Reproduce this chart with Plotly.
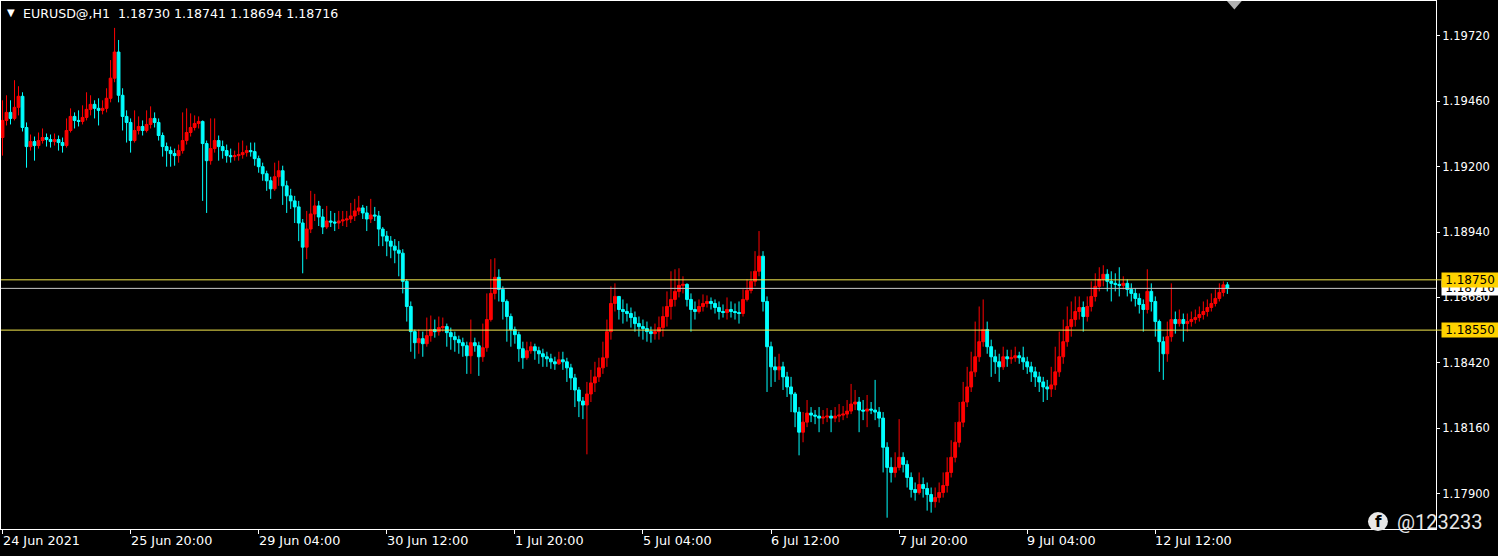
import plotly.graph_objects as go

# ---------------- data (prices in points, 1 point = 0.00001) ----------------
FIRST_OPEN = 119316

close_pts = [
    119384, 119416, 119392, 119436, 119480, 119356, 119280, 119300, 119284, 119304,
    119316, 119308, 119300, 119308, 119296, 119284, 119344, 119400, 119384, 119380,
    119396, 119428, 119448, 119432, 119424, 119432, 119472, 119552, 119656, 119484,
    119400, 119376, 119304, 119344, 119360, 119344, 119368, 119392, 119376, 119324,
    119280, 119264, 119252, 119244, 119264, 119304, 119336, 119356, 119372, 119380,
    119292, 119224, 119272, 119304, 119280, 119264, 119244, 119240, 119244, 119248,
    119256, 119264, 119260, 119232, 119200, 119172, 119144, 119112, 119160, 119184,
    119124, 119084, 119064, 119040, 118976, 118880, 118952, 119012, 119044, 119000,
    118960, 118984, 118980, 118976, 118984, 118988, 118992, 119004, 119024, 119036,
    119016, 118992, 119008, 119004, 118952, 118924, 118904, 118884, 118868, 118856,
    118744, 118644, 118544, 118500, 118516, 118496, 118528, 118552, 118544, 118560,
    118564, 118540, 118524, 118512, 118500, 118488, 118448, 118500, 118488, 118444,
    118480, 118592, 118696, 118760, 118712, 118664, 118604, 118552, 118532, 118476,
    118440, 118468, 118484, 118468, 118456, 118444, 118436, 118424, 118416, 118432,
    118424, 118400, 118360, 118312, 118268, 118252, 118296, 118340, 118364, 118400,
    118440, 118544, 118656, 118684, 118632, 118624, 118616, 118600, 118576, 118564,
    118556, 118544, 118536, 118544, 118560, 118604, 118644, 118672, 118704, 118728,
    118732, 118672, 118632, 118624, 118644, 118656, 118664, 118656, 118640, 118624,
    118620, 118632, 118624, 118620, 118616, 118672, 118708, 118744, 118784, 118844,
    118664, 118484, 118404, 118392, 118404, 118364, 118324, 118296, 118224, 118144,
    118184, 118220, 118212, 118208, 118200, 118204, 118208, 118200, 118208, 118212,
    118216, 118228, 118256, 118264, 118232, 118228, 118236, 118232, 118224, 118200,
    118084, 118004, 117984, 118004, 118044, 118016, 117964, 117916, 117904, 117936,
    117920, 117896, 117868, 117884, 117904, 117932, 117984, 118044, 118104, 118184,
    118264, 118324, 118384, 118444, 118504, 118552, 118484, 118444, 118424, 118404,
    118444, 118436, 118440, 118448, 118440, 118424, 118404, 118384, 118364, 118344,
    118324, 118316, 118332, 118384, 118444, 118504, 118564, 118592, 118624, 118640,
    118604, 118644, 118684, 118724, 118752, 118772, 118744, 118736, 118732, 118728,
    118736, 118712, 118696, 118676, 118652, 118632, 118704, 118664, 118584, 118504,
    118456, 118524, 118592, 118576, 118592, 118576, 118584, 118592, 118600, 118612,
    118624, 118640, 118656, 118676, 118700, 118730, 118716,
]

high_pts = [
    119464, 119484, 119464, 119544, 119520, 119496, 119376, 119328, 119320, 119336,
    119352, 119332, 119328, 119332, 119324, 119316, 119392, 119432, 119416, 119424,
    119444, 119496, 119484, 119464, 119472, 119464, 119512, 119624, 119752, 119704,
    119512, 119424, 119392, 119424, 119400, 119384, 119424, 119440, 119416, 119392,
    119336, 119296, 119280, 119272, 119288, 119416, 119432, 119412, 119404, 119400,
    119384, 119304, 119392, 119392, 119324, 119304, 119288, 119272, 119264, 119296,
    119304, 119284, 119296, 119296, 119244, 119216, 119184, 119160, 119216, 119224,
    119204, 119144, 119112, 119084, 119064, 118992, 119024, 119104, 119092, 119064,
    119032, 119044, 119024, 119016, 119024, 119024, 119024, 119056, 119072, 119084,
    119048, 119044, 119072, 119040, 119024, 118960, 118944, 118924, 118912, 118904,
    118872, 118752, 118664, 118552, 118552, 118544, 118600, 118608, 118592, 118604,
    118600, 118576, 118560, 118544, 118528, 118520, 118504, 118592, 118520, 118504,
    118576, 118696, 118832, 118836, 118792, 118724, 118672, 118616, 118564, 118544,
    118504, 118504, 118504, 118496, 118484, 118476, 118464, 118456, 118444, 118464,
    118464, 118440, 118416, 118376, 118324, 118284, 118344, 118392, 118424, 118440,
    118504, 118592, 118724, 118736, 118680, 118672, 118656, 118640, 118624, 118604,
    118592, 118584, 118564, 118576, 118604, 118644, 118704, 118784, 118792, 118796,
    118764, 118736, 118696, 118664, 118672, 118692, 118688, 118680, 118672, 118664,
    118652, 118680, 118664, 118656, 118664, 118712, 118752, 118784, 118864, 118944,
    118864, 118684, 118504, 118444, 118456, 118424, 118384, 118364, 118304, 118244,
    118224, 118272, 118244, 118232, 118244, 118232, 118240, 118232, 118244, 118256,
    118248, 118272, 118336, 118312, 118284, 118272, 118292, 118264, 118352, 118244,
    118224, 118104, 118044, 118064, 118196, 118064, 118032, 117984, 117944, 117984,
    117964, 117944, 117924, 117924, 117944, 117984, 118044, 118112, 118184, 118264,
    118344, 118404, 118464, 118584, 118644, 118672, 118584, 118512, 118472, 118456,
    118484, 118472, 118472, 118484, 118464, 118484, 118444, 118424, 118404, 118384,
    118364, 118352, 118404, 118484, 118544, 118592, 118644, 118664, 118684, 118684,
    118664, 118684, 118744, 118776, 118800, 118808, 118792, 118784, 118776, 118800,
    118764, 118752, 118736, 118716, 118696, 118672, 118792, 118736, 118684, 118592,
    118524, 118584, 118736, 118624, 118632, 118616, 118616, 118624, 118632, 118644,
    118664, 118672, 118696, 118712, 118736, 118744, 118741,
]

low_pts = [
    119244, 119364, 119368, 119384, 119404, 119340, 119196, 119264, 119224, 119272,
    119292, 119280, 119276, 119284, 119264, 119256, 119276, 119336, 119352, 119360,
    119368, 119384, 119404, 119392, 119364, 119408, 119416, 119456, 119536, 119456,
    119344, 119296, 119256, 119296, 119328, 119324, 119336, 119352, 119356, 119304,
    119240, 119200, 119200, 119204, 119216, 119252, 119288, 119320, 119344, 119352,
    119064, 119016, 119208, 119256, 119224, 119232, 119216, 119216, 119224, 119224,
    119232, 119240, 119240, 119204, 119176, 119144, 119104, 119072, 119104, 119124,
    119048, 119016, 119032, 118976, 118904, 118776, 118832, 118936, 118984, 118964,
    118932, 118952, 118960, 118944, 118952, 118964, 118960, 118976, 118984, 119008,
    118992, 118944, 118976, 118984, 118884, 118884, 118844, 118836, 118816, 118764,
    118696, 118584, 118464, 118436, 118456, 118444, 118484, 118504, 118520, 118528,
    118544, 118484, 118472, 118464, 118456, 118444, 118376, 118376, 118464, 118368,
    118424, 118464, 118584, 118672, 118664, 118592, 118504, 118484, 118496, 118424,
    118396, 118432, 118456, 118432, 118416, 118404, 118404, 118396, 118392, 118412,
    118392, 118344, 118312, 118244, 118204, 118196, 118056, 118264, 118304, 118344,
    118376, 118404, 118512, 118624, 118592, 118576, 118584, 118560, 118544, 118524,
    118512, 118504, 118500, 118512, 118512, 118524, 118564, 118592, 118644, 118680,
    118696, 118644, 118544, 118592, 118616, 118624, 118640, 118632, 118616, 118592,
    118600, 118592, 118600, 118592, 118576, 118604, 118664, 118696, 118724, 118764,
    118624, 118304, 118324, 118344, 118352, 118312, 118284, 118224, 118164, 118052,
    118104, 118164, 118184, 118176, 118144, 118176, 118184, 118144, 118184, 118184,
    118192, 118200, 118216, 118232, 118144, 118192, 118164, 118216, 118192, 118164,
    117984, 117804, 117944, 117964, 117992, 117984, 117924, 117884, 117872, 117896,
    117884, 117832, 117824, 117844, 117864, 117884, 117904, 117964, 118024, 118084,
    118164, 118244, 118304, 118364, 118424, 118484, 118456, 118364, 118376, 118344,
    118392, 118404, 118416, 118424, 118416, 118392, 118376, 118344, 118324, 118304,
    118264, 118272, 118284, 118312, 118364, 118416, 118484, 118524, 118564, 118592,
    118544, 118584, 118624, 118664, 118704, 118724, 118704, 118664, 118704, 118684,
    118712, 118684, 118664, 118644, 118616, 118544, 118616, 118624, 118524, 118384,
    118352, 118424, 118504, 118536, 118564, 118504, 118544, 118564, 118576, 118584,
    118592, 118604, 118624, 118644, 118664, 118684, 118694,
]

date_labels = ["24 Jun 2021", "25 Jun 20:00", "29 Jun 04:00", "30 Jun 12:00",
               "1 Jul 20:00", "5 Jul 04:00", "6 Jul 12:00", "7 Jul 20:00",
               "9 Jul 04:00", "12 Jul 12:00"]
date_bars = [0, 32, 64, 96, 128, 160, 192, 224, 256, 288]

y_ticks = [1.17900, 1.18160, 1.18420, 1.18680, 1.18940, 1.19200, 1.19460, 1.19720]
level_prices = [1.18750, 1.18550]
symbol = "EURUSD@,H1"
watermark = "@123233"

# ---------------- build OHLC ----------------
close = [v / 1e5 for v in close_pts]
open_ = [FIRST_OPEN / 1e5] + close[:-1]
high = [max(h / 1e5, o, c) for h, o, c in zip(high_pts, open_, close)]
low = [min(l / 1e5, o, c) for l, o, c in zip(low_pts, open_, close)]
x = list(range(len(close)))
bid = close[-1]

FONT = "DejaVu Sans"

fig = go.Figure(go.Candlestick(
    x=x, open=open_, high=high, low=low, close=close,
    increasing=dict(line=dict(color="#FF0000", width=1), fillcolor="#FF0000"),
    decreasing=dict(line=dict(color="#00FFFF", width=1), fillcolor="#00FFFF"),
    whiskerwidth=0, hoverinfo="skip", showlegend=False,
))

fig.update_layout(
    width=1498, height=556,
    margin=dict(l=1, r=62, t=1, b=27),
    paper_bgcolor="#000000", plot_bgcolor="#000000",
    showlegend=False, boxgap=0.0, boxgroupgap=0.3,
    font=dict(family=FONT, size=12, color="#FFFFFF"),
)
fig.update_xaxes(
    range=[-0.375, 358.125], rangeslider=dict(visible=False),
    showgrid=False, zeroline=False,
    showline=True, linecolor="#FFFFFF", linewidth=1, mirror=True,
    tickvals=date_bars, ticks="outside", ticklen=4, tickcolor="#FFFFFF",
    showticklabels=False,
)
fig.update_yaxes(
    side="right", range=[1.17759, 1.19859],
    tickvals=y_ticks, tickformat=".5f",
    ticks="outside", ticklen=3, tickcolor="#FFFFFF",
    showgrid=False, zeroline=False,
    showline=True, linecolor="#FFFFFF", linewidth=1, mirror=True,
    tickfont=dict(family=FONT, size=11.5, color="#FFFFFF"),
)

shapes = []
for lv in level_prices:
    shapes.append(dict(type="line", xref="paper", x0=0, x1=1.012, yref="y", y0=lv, y1=lv,
                       line=dict(color="#F5E94E", width=1), layer="above"))
shapes.append(dict(type="line", xref="paper", x0=0, x1=1, yref="y", y0=bid, y1=bid,
                   line=dict(color="#C8C8C8", width=1), layer="above"))
# chart-shift marker at top
shapes.append(dict(type="path", xref="x", yref="paper",
                   path="M 305.9 1 L 309.6 1 L 307.75 0.984 Z",
                   fillcolor="#B0B0B0", line=dict(width=0)))
# watermark logo circle
shapes.append(dict(type="circle", xref="paper", yref="paper",
                   x0=0.9526, x1=0.9665, y0=-0.004, y1=0.032,
                   fillcolor="#E8E8E8", line=dict(width=0)))
fig.update_layout(shapes=shapes)

ann = []
# date labels (left-aligned at tick)
for b, t in zip(date_bars, date_labels):
    ann.append(dict(x=b, xref="x", y=0, yref="paper", xanchor="left", yanchor="top",
                    xshift=-2, yshift=-2, text=t, showarrow=False,
                    font=dict(family=FONT, size=12.8, color="#FFFFFF")))
# bid label (white) then level labels (yellow) on the price scale
ann.append(dict(x=1, xref="paper", y=bid, yref="y", xanchor="left", xshift=5,
                text=f"{bid:.5f}", showarrow=False, bgcolor="#FFFFFF", borderpad=0,
                width=56, height=14, font=dict(family=FONT, size=12, color="#000000")))
for lv in level_prices:
    ann.append(dict(x=1, xref="paper", y=lv, yref="y", xanchor="left", xshift=5,
                    text=f"{lv:.5f}", showarrow=False, bgcolor="#FFD200", borderpad=0,
                    width=56, height=14, font=dict(family=FONT, size=12, color="#000000")))
# top-left title
title_txt = f"{symbol}\u00a0\u00a0{open_[-1]:.5f} {high[-1]:.5f} {low[-1]:.5f} {close[-1]:.5f}"
ann.append(dict(x=0, xref="paper", y=1, yref="paper", xanchor="left", yanchor="top",
                xshift=4, yshift=-4, text="\u25BC", showarrow=False,
                font=dict(family=FONT, size=10, color="#FFFFFF")))
ann.append(dict(x=0, xref="paper", y=1, yref="paper", xanchor="left", yanchor="top",
                xshift=20, yshift=-3, text=title_txt, showarrow=False,
                font=dict(family=FONT, size=12.6, color="#FFFFFF")))
# watermark
ann.append(dict(x=0.9596, xref="paper", y=0.014, yref="paper", xanchor="center", yanchor="middle",
                text="<b>f</b>", showarrow=False,
                font=dict(family=FONT, size=15, color="#000000")))
ann.append(dict(x=0.9715, xref="paper", y=0.014, yref="paper", xanchor="left", yanchor="middle",
                text=watermark, showarrow=False,
                font=dict(family="Roboto", size=20, color="#E6E6E6")))
fig.update_layout(annotations=ann)

fig.write_html(
    "out.html",
    config={"displayModeBar": False, "staticPlot": True},
    post_script="document.body.style.margin='0';document.body.style.overflow='hidden';",
)
